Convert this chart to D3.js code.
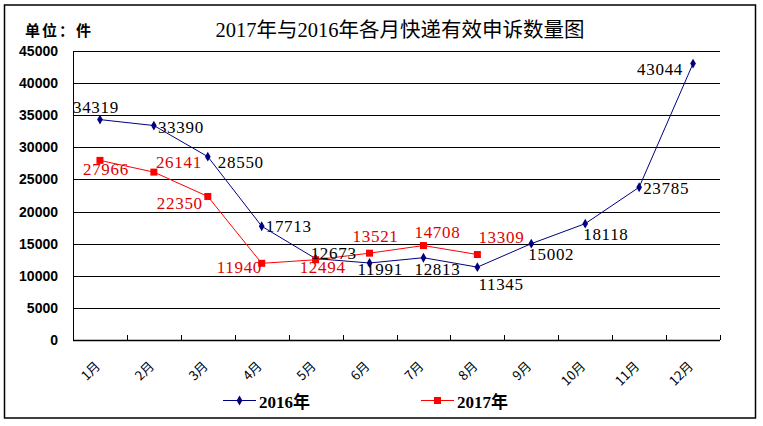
<!DOCTYPE html>
<html>
<head>
<meta charset="utf-8">
<script src="https://cdn.jsdelivr.net/npm/d3@7"></script>
<style>
  body { margin: 0; background: #fff; }
  svg text { fill: #000; }
</style>
</head>
<body>
<div id="chart"></div>
<script>
// data
var months = ["1月", "2月", "3月", "4月", "5月", "6月", "7月", "8月", "9月", "10月", "11月", "12月"];
var yTicks = [0, 5000, 10000, 15000, 20000, 25000, 30000, 35000, 40000, 45000];
var values2016 = [34319, 33390, 28550, 17713, 12673, 11991, 12813, 11345, 15002, 18118, 23785, 43044];
var values2017 = [27966, 26141, 22350, 11940, 12494, 13521, 14708, 13309];

// label placement (offset from point, text starts there)
var offs2016 = [[-27, -7], [4, 7], [10, 11], [4, 6], [-5, 0], [-12, 12], [-9, 17], [1, 23], [-3, 16], [-2, 16], [4, 7], [-56, 11]];
var offs2017 = [[-17, 15], [2, -4], [-51, 13], [-45, 10], [-16, 13], [-17, -11], [-9, -8], [1, -12]];

var width = 763, height = 426;
var plotLeft = 73, plotRight = 720, plotTop = 51, plotBottom = 340;

var svg = d3.select("#chart").append("svg")
    .attr("width", width)
    .attr("height", height);

// outer frame
svg.append("rect")
    .attr("x", 4.5).attr("y", 5)
    .attr("width", 751).attr("height", 413)
    .attr("fill", "none")
    .attr("stroke", "#000")
    .attr("stroke-width", 1.5);

var x = d3.scaleBand()
    .domain(months)
    .range([plotLeft, plotRight]);

var y = d3.scaleLinear()
    .domain([0, 45000])
    .range([plotBottom, plotTop]);

function cx(i) { return x(months[i]) + x.bandwidth() / 2; }

// gridlines
svg.append("g")
    .selectAll("line")
    .data(yTicks)
  .enter().append("line")
    .attr("x1", plotLeft).attr("x2", plotRight)
    .attr("y1", function(d) { return Math.round(y(d)) + 0.5; })
    .attr("y2", function(d) { return Math.round(y(d)) + 0.5; })
    .attr("stroke", "#000")
    .attr("stroke-width", function(d) { return d == 0 ? 1.5 : 1; });

// y axis line + labels
svg.append("line")
    .attr("x1", plotLeft + 0.5).attr("x2", plotLeft + 0.5)
    .attr("y1", plotTop).attr("y2", plotBottom)
    .attr("stroke", "#000");

svg.append("g")
    .selectAll("text")
    .data(yTicks)
  .enter().append("text")
    .attr("x", 58)
    .attr("y", function(d) { return y(d) + 5; })
    .attr("text-anchor", "end")
    .style("font-family", "'Liberation Sans', Arial, sans-serif")
    .style("font-weight", "bold")
    .style("font-size", "14px")
    .text(function(d) { return d; });

// x ticks at band edges
var edges = months.map(function(m) { return x(m); }).concat([plotRight]);
svg.append("g")
    .selectAll("line")
    .data(edges)
  .enter().append("line")
    .attr("x1", function(d) { return Math.round(d) + 0.5; })
    .attr("x2", function(d) { return Math.round(d) + 0.5; })
    .attr("y1", plotBottom - 5).attr("y2", plotBottom)
    .attr("stroke", "#000");

svg.append("g")
    .selectAll("text")
    .data(months)
  .enter().append("text")
    .attr("transform", function(d, i) { return "translate(" + (cx(i) + 1) + "," + 367 + ") rotate(-45)"; })
    .attr("text-anchor", "end")
    .style("font-family", "'Noto Sans CJK SC', sans-serif")
    .style("font-size", "13px")
    .text(function(d) { return d; });

// lines
var line = d3.line()
    .x(function(d, i) { return cx(i); })
    .y(function(d) { return y(d); });

svg.append("path")
    .datum(values2016)
    .attr("d", line)
    .attr("fill", "none")
    .attr("stroke", "#000080")
    .attr("stroke-width", 1);

svg.append("path")
    .datum(values2017)
    .attr("d", line)
    .attr("fill", "none")
    .attr("stroke", "#FF0000")
    .attr("stroke-width", 1);

// markers
var diamond = d3.symbol().type(d3.symbolDiamond).size(28);

svg.append("g")
    .selectAll("path")
    .data(values2016)
  .enter().append("path")
    .attr("d", diamond)
    .attr("transform", function(d, i) { return "translate(" + cx(i) + "," + y(d) + ")"; })
    .attr("fill", "#000080");

svg.append("g")
    .selectAll("rect")
    .data(values2017)
  .enter().append("rect")
    .attr("x", function(d, i) { return cx(i) - 3.5; })
    .attr("y", function(d) { return y(d) - 3.5; })
    .attr("width", 7).attr("height", 7)
    .attr("fill", "#FF0000");

// data labels
var labelFont = "'Liberation Serif', 'Times New Roman', serif";

svg.append("g")
    .selectAll("text")
    .data(values2016)
  .enter().append("text")
    .attr("x", function(d, i) { return cx(i) + offs2016[i][0]; })
    .attr("y", function(d, i) { return y(d) + offs2016[i][1]; })
    .style("font-family", labelFont)
    .style("font-size", "17px")
    .style("letter-spacing", "0.7px")
    .text(function(d) { return d; });

svg.append("g")
    .selectAll("text")
    .data(values2017)
  .enter().append("text")
    .attr("x", function(d, i) { return cx(i) + offs2017[i][0]; })
    .attr("y", function(d, i) { return y(d) + offs2017[i][1]; })
    .style("font-family", labelFont)
    .style("font-size", "17px")
    .style("letter-spacing", "0.7px")
    .style("fill", "#E00000")
    .text(function(d) { return d; });

// titles
svg.append("text")
    .attr("x", 400)
    .attr("y", 37)
    .attr("text-anchor", "middle")
    .style("font-family", "'Liberation Serif', 'Noto Sans CJK SC', serif")
    .style("font-size", "20.5px")
    .text("2017年与2016年各月快递有效申诉数量图");

svg.append("text")
    .attr("x", 25)
    .attr("y", 36)
    .style("font-family", "'Noto Sans CJK SC', sans-serif")
    .style("font-weight", "bold")
    .style("font-size", "15px")
    .style("letter-spacing", "2px")
    .text("单位：件");

// legend
var legend = [
  { name: "2016年", color: "#000080", x: 223, mark: "diamond" },
  { name: "2017年", color: "#FF0000", x: 421, mark: "square" }
];

var lg = svg.append("g")
    .selectAll("g")
    .data(legend)
  .enter().append("g")
    .attr("transform", function(d) { return "translate(" + d.x + ",400)"; });

lg.append("line")
    .attr("x1", 0).attr("x2", 33)
    .attr("y1", 0.5).attr("y2", 0.5)
    .attr("stroke", function(d) { return d.color; });

lg.append("path")
    .attr("d", function(d) { return d.mark == "diamond" ? diamond() : d3.symbol().type(d3.symbolSquare).size(49)(); })
    .attr("transform", "translate(16.5,0.5)")
    .attr("fill", function(d) { return d.color; });

lg.append("text")
    .attr("x", 36)
    .attr("y", 8)
    .style("font-family", "'Liberation Serif', 'Noto Sans CJK SC', serif")
    .style("font-weight", "bold")
    .style("font-size", "17px")
    .text(function(d) { return d.name; });
</script>
</body>
</html>
